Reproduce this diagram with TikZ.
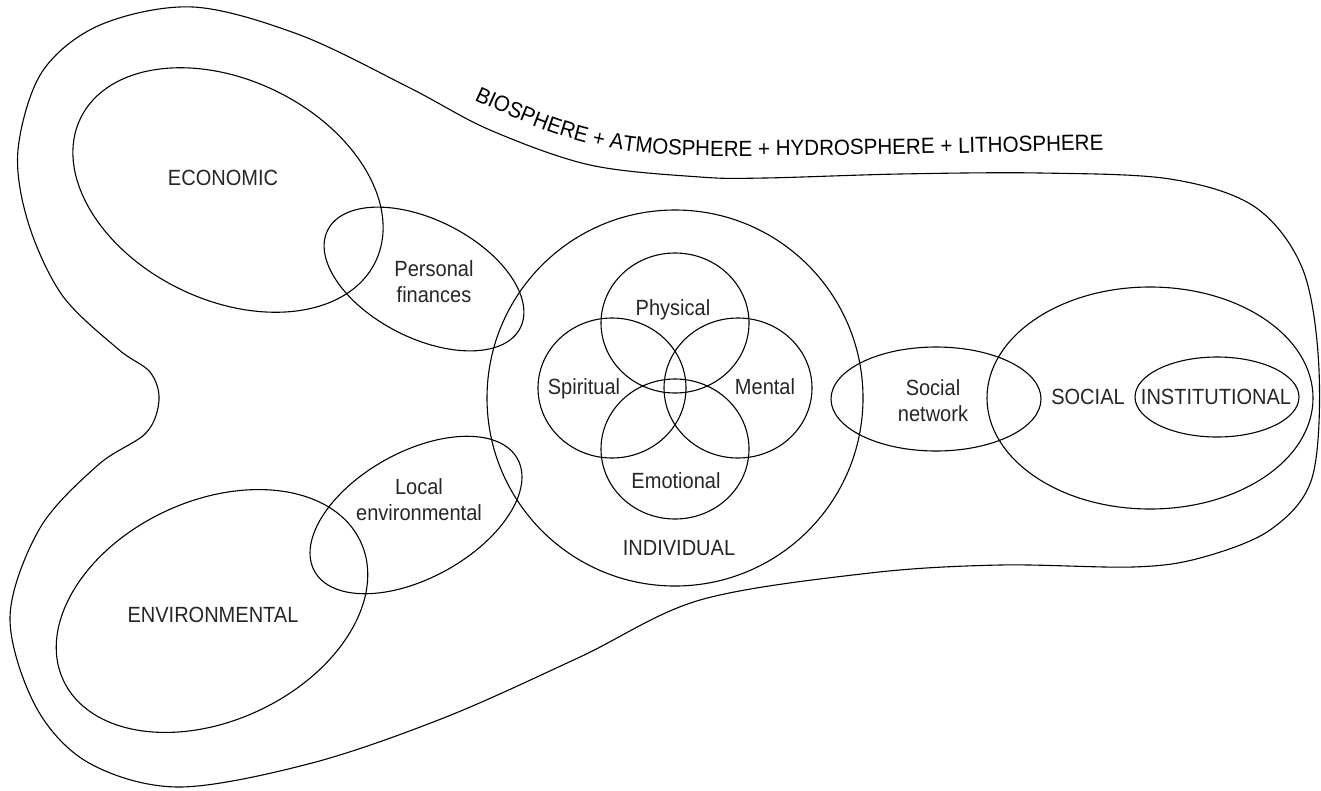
\documentclass[tikz,border=0pt]{standalone}
\usepackage{fontspec}
\newfontfamily\vennfont{Liberation Sans}[FakeStretch=0.91]
\newfontfamily\curvefont{Liberation Sans}[FakeStretch=0.935]
\usetikzlibrary{decorations.text}
\tikzset{
  sphere/.style={line width=1.1pt, black},
  lbl/.style={font=\vennfont\fontsize{22}{26}\selectfont, align=center, text=black!85, inner sep=0pt},
}
\begin{document}
\begin{tikzpicture}[x=1pt, y=-1pt]
        \useasboundingbox (0,0) rectangle (1321,790);

        % Outer boundary
        \draw[sphere, smooth cycle, tension=0.55] plot coordinates {(193,7) (300,35) (410,88) (490,130) (590,165) (700,177) (765,178) (900,174) (1040,173) (1170,179) (1255,207) (1303,270) (1319,370) (1312,478) (1270,530) (1200,558) (1133,567) (1000,565) (870,573) (700,600) (580,657) (446,717) (312,763) (179,787) (89,763) (36,707) (10,617) (40,528) (98,465) (146,433) (159,400) (150,372) (118,349) (62,295) (28,222) (18,150) (42,72) (100,25)};

        % Curved label along the boundary
        \path[decorate, decoration={text along path, text align=left,
            text={|\curvefont\fontsize{22}{26}\selectfont|BIOSPHERE + ATMOSPHERE + HYDROSPHERE + LITHOSPHERE}}]
            (474,100) .. controls (545,132) and (595,155) .. (700,156) .. controls (800,157) and (1000,152) .. (1105,150);

        % Economic side
        \draw[sphere, rotate around={-26:(228,190)}] (228,190) ellipse (164 and 110);
        \draw[sphere, rotate around={-27:(424,279)}] (424,279) ellipse (108 and 59);
        \node[lbl] (econ) at (223,178) {ECONOMIC};
        \node[lbl] (finances) at (434,282) {Personal\\finances};

        % Environmental side
        \draw[sphere, rotate around={25:(212,611)}] (212,611) ellipse (164 and 110);
        \draw[sphere, rotate around={29:(416,515)}] (416,515) ellipse (116 and 63);
        \node[lbl] (env) at (213,615) {ENVIRONMENTAL};
        \node[lbl] (localenv) at (419,500) {Local\\environmental};

        % Individual and its four parts
        \draw[sphere] (675,398) circle (188);
        \foreach \cx/\cy in {675/323, 612/388, 738/388, 675/449} {
            \draw[sphere] (\cx,\cy) ellipse (74 and 70);
        }
        \node[lbl] (physical) at (673,310) {Physical};
        \node[lbl] (spiritual) at (584,389) {Spiritual};
        \node[lbl] (mental) at (765,387) {Mental};
        \node[lbl] (emotional) at (676,481) {Emotional};
        \node[lbl] (indiv) at (679,548) {INDIVIDUAL};

        % Social side
        \draw[sphere] (936,399) ellipse (105 and 52);
        \draw[sphere] (1150,398) ellipse (163 and 111);
        \draw[sphere] (1217,397) ellipse (82 and 40);
        \node[lbl] (network) at (933,401) {Social\\network};
        \node[lbl] (social) at (1088,397) {SOCIAL};
        \node[lbl] (instit) at (1216,397) {INSTITUTIONAL};
\end{tikzpicture}
\end{document}
